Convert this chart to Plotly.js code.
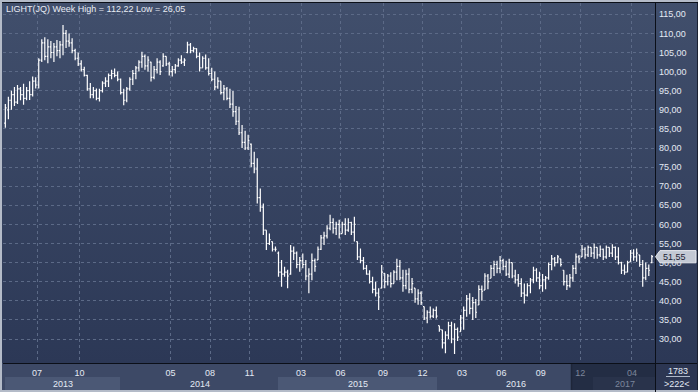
<!DOCTYPE html>
<html><head><meta charset="utf-8">
<script src="https://cdn.plot.ly/plotly-3.0.1.min.js"></script>
<style>
html,body{margin:0;padding:0;background:#3d4966;}
#wrap{position:relative;width:698px;height:392px;overflow:hidden;
 background:linear-gradient(to bottom,#414f6c 0px,#2c3856 363px,#3d4966 363px,#3d4966 392px);}
#chart{width:698px;height:392px;}
</style></head><body><div id="wrap"><div id="chart"></div></div>
<script>
// ---- data (weekly bars) ----
const firstBarDate = '2013-04-19';
const high = [
 91.5,93.4,95.0,96.0,96.5,96.0,96.8,96.0,97.5,98.7,
 98.5,103.5,108.5,109.0,108.5,108.0,107.5,108.3,108.0,112.22,
 110.9,110.0,108.7,106.0,105.0,103.0,101.3,99.2,97.0,96.0,
 95.6,95.5,97.5,98.5,99.5,100.5,100.8,100.0,98.2,95.5,
 96.0,98.5,100.4,101.5,103.0,105.2,104.5,104.0,102.6,101.5,
 103.5,103.0,104.8,104.0,102.6,101.5,102.0,103.5,104.3,103.5,
 107.8,107.5,106.5,106.1,105.0,104.0,104.5,103.5,101.0,100.0,
 98.5,97.5,96.5,96.0,95.5,94.9,91.0,90.8,86.0,84.5,
 83.5,81.2,79.0,77.3,69.4,65.5,58.5,57.6,55.5,54.2,
 52.9,50.7,48.9,48.1,54.6,54.2,52.9,51.5,52.4,50.7,
 48.5,52.4,51.1,54.2,57.2,58.1,59.8,62.5,61.6,60.7,
 61.2,60.7,61.6,61.6,60.7,62.0,55.5,53.7,51.5,49.4,
 48.0,46.3,45.0,43.3,49.4,47.2,47.0,47.5,48.0,51.0,
 50.7,48.1,48.1,48.5,46.0,43.3,43.0,42.5,38.5,37.5,
 38.5,38.0,38.5,33.5,32.4,32.0,34.5,34.5,34.1,33.0,
 36.3,38.5,41.5,42.0,41.0,40.5,44.1,44.0,47.2,47.0,
 49.4,50.5,50.5,51.7,51.0,50.5,51.0,50.0,48.1,47.0,
 45.9,44.5,44.6,46.0,48.9,48.5,47.6,47.0,46.5,50.0,
 52.0,51.5,52.0,51.0,48.0,46.8,47.0,49.4,52.4,52.0,
 54.6,54.0,54.5,54.0,55.0,54.0,54.5,53.7,54.5,54.0,
 54.8,54.2,54.0,50.2,49.5,50.5,53.3,53.5,53.7,52.0,
 50.7,50.0,49.5,52.0];
const low = [
 85.3,87.5,90.0,91.0,91.5,92.5,91.3,92.5,92.6,93.5,
 95.6,95.6,102.5,103.0,102.2,103.5,102.5,104.0,103.5,104.3,
 106.2,106.5,104.8,103.0,101.5,100.0,98.7,95.0,93.0,93.0,
 92.5,92.2,94.5,96.0,96.0,98.0,98.5,97.5,94.0,91.2,
 92.0,95.0,96.5,98.0,100.0,101.0,100.5,100.0,97.4,98.0,
 99.5,99.1,101.3,101.5,99.0,98.7,99.5,101.3,102.0,101.5,
 104.8,104.8,105.0,103.5,100.0,101.0,100.5,99.0,97.5,95.2,
 95.5,94.0,92.5,92.5,90.5,88.2,86.0,83.4,80.0,79.5,
 79.5,75.0,73.4,65.5,63.3,57.2,53.3,54.6,52.9,52.9,
 46.3,43.7,46.3,43.3,46.8,50.7,48.5,47.6,48.5,45.4,
 42.0,45.4,47.6,50.7,53.3,54.6,56.3,58.5,57.6,57.2,
 56.3,57.6,57.2,58.1,57.2,55.5,50.7,49.8,48.1,46.8,
 44.5,42.0,41.1,37.6,43.3,43.3,44.0,43.5,44.5,45.4,
 45.4,42.4,43.0,42.0,42.0,39.5,39.0,38.9,35.0,34.1,
 35.4,35.5,35.4,31.9,27.5,26.3,30.0,28.9,26.05,29.5,
 31.9,32.4,35.8,36.5,35.0,35.5,38.9,40.0,42.8,43.0,
 45.9,46.5,47.2,47.2,48.0,46.5,46.0,45.9,44.5,43.7,
 41.0,39.3,41.1,42.0,44.6,45.0,43.0,42.4,43.0,45.5,
 48.0,49.0,49.8,49.0,44.0,42.8,43.5,45.0,47.0,49.8,
 51.5,51.0,51.5,51.5,51.0,51.0,51.5,50.7,51.0,51.5,
 51.5,50.7,49.5,47.0,46.8,47.5,50.2,50.5,50.2,48.9,
 43.7,45.4,46.5,49.8];
const open = [
 86.5,90.0,92.5,94.0,92.0,95.5,94.0,93.0,95.0,94.0,
 97.5,96.5,103.0,107.5,104.0,106.5,105.0,106.5,105.5,107.0,
 110.0,108.0,107.5,105.5,103.5,102.0,100.5,99.0,95.5,94.0,
 95.0,93.0,95.0,97.0,97.5,99.0,99.5,99.0,98.0,94.5,
 92.5,95.5,98.0,99.5,101.0,102.5,104.0,101.5,102.5,98.5,
 100.5,102.5,101.5,104.0,102.0,100.0,100.5,101.5,103.0,102.5,
 105.0,107.0,105.5,106.0,104.0,101.0,103.5,101.0,99.5,98.0,
 96.0,97.5,94.5,95.5,93.0,91.5,89.5,87.0,84.0,81.5,
 80.0,81.0,76.0,74.5,67.0,64.5,58.5,55.0,55.5,53.5,
 52.5,47.5,47.0,47.5,47.0,53.0,52.5,49.5,50.5,49.5,
 46.5,47.0,50.5,50.7,53.5,56.5,57.0,59.0,60.5,59.0,
 60.0,57.6,60.0,58.5,60.5,58.0,55.5,51.5,50.5,48.5,
 47.0,45.0,43.0,42.0,43.3,47.2,45.0,46.5,44.5,47.5,
 49.0,46.0,44.0,47.0,43.0,43.3,40.5,42.0,38.5,35.5,
 37.0,36.0,37.5,33.5,32.4,29.0,31.0,33.5,30.0,32.5,
 31.9,35.5,37.5,40.5,38.0,39.5,38.9,43.0,42.8,46.5,
 45.9,48.5,49.5,48.5,50.5,49.0,47.0,50.0,46.5,45.5,
 44.5,42.0,41.5,44.0,45.5,48.0,46.0,44.0,45.5,46.0,
 49.5,51.0,50.0,51.0,48.0,45.0,44.0,46.0,48.5,51.5,
 51.5,53.5,52.0,54.0,52.5,54.0,52.0,53.5,51.5,54.0,
 52.5,54.0,51.5,50.0,48.0,47.5,50.2,52.5,51.5,52.0,
 49.5,46.0,48.5,50.0];
const close = [
 90.5,92.5,94.0,92.0,95.5,94.0,93.0,95.0,94.0,97.5,
 96.5,103.0,107.5,104.0,106.5,105.0,106.5,105.5,107.0,110.0,
 108.0,107.5,105.5,103.5,102.0,100.5,99.0,95.5,94.0,95.0,
 93.0,95.0,97.0,97.5,99.0,99.5,99.0,98.0,94.5,92.5,
 95.5,98.0,99.5,101.0,102.5,104.0,101.5,103.0,98.5,100.5,
 102.5,100.0,104.0,102.0,100.0,100.5,101.5,103.0,102.5,103.0,
 107.0,105.5,106.0,104.0,101.0,103.5,101.0,99.5,98.0,96.0,
 97.5,94.5,95.5,93.0,91.5,89.5,87.0,84.0,81.5,80.0,
 82.0,76.0,74.5,67.0,64.5,58.5,55.0,56.0,53.5,53.5,
 47.5,47.0,47.5,46.5,53.0,52.5,49.5,50.5,49.5,46.5,
 47.0,50.5,49.0,53.5,56.5,57.0,59.0,60.5,59.0,60.0,
 57.5,60.0,58.5,60.5,58.0,60.0,51.5,50.5,48.5,47.0,
 45.0,43.0,42.0,41.0,47.5,45.0,46.5,44.5,47.5,49.0,
 46.0,44.0,47.0,43.0,44.5,40.5,42.0,39.5,35.5,37.0,
 36.0,37.5,36.0,32.5,29.0,31.0,33.5,30.0,32.5,30.5,
 35.5,37.5,40.5,38.0,39.5,37.0,43.0,42.5,46.5,45.0,
 48.5,49.5,48.5,50.5,49.0,47.0,50.0,46.5,45.5,44.5,
 42.0,41.5,44.0,45.5,48.0,46.0,44.0,45.5,46.0,49.5,
 51.0,50.0,51.5,49.5,45.0,44.0,46.0,48.5,51.5,51.0,
 53.5,52.0,54.0,52.5,54.0,52.0,53.5,51.5,54.0,52.5,
 54.0,51.5,50.0,48.0,47.5,50.0,52.5,51.5,52.5,49.5,
 46.0,48.5,48.0,51.55];

// month ticks sit on the first weekly bar (Monday) of the month
const monthTickDates = ['2013-07-01','2013-10-07','2014-05-05','2014-08-04','2014-11-03','2015-03-02',
 '2015-06-01','2015-09-07','2015-12-07','2016-03-07','2016-06-06','2016-09-05','2016-12-05','2017-04-03'];
const monthTickLabels = ['07','10','05','08','11','03','06','09','12','03','06','09','12','04'];
const dimmedTicks = [12,13];
const priceTicks = [30,35,40,45,50,55,60,65,70,75,80,85,90,95,100,105,110,115];
const yearLabels = ['2013','2014','2015','2016','2017'];
const symbolName = 'LIGHT(JQ)';
const footerTop = '1783', footerBottom = '>222<';

// weekly dates for the bars
const dates = [];
{ const d0 = new Date(firstBarDate + 'T00:00:00Z');
  for (let i = 0; i < close.length; i++) {
    const d = new Date(d0.getTime() + i * 7 * 86400000);
    dates.push(d.toISOString().slice(0, 10));
  } }

const fmt = v => v.toFixed(2).replace('.', ',');
const hi = Math.max(...high), lo = Math.min(...low);
const lastClose = close[close.length - 1];

// ---- layout geometry ----
const PL = 3, PR = 655, PT = 3, PB = 363;
const fx = px => (px - PL) / (PR - PL);
const fy = py => (PB - py) / (PB - PT);
const FONT = 'Liberation Sans, Arial, sans-serif';
const txt = '#e4eaf4', dim = '#7c869b';

const ticktext = monthTickLabels.map((t, i) =>
  dimmedTicks.includes(i) ? '<span style="color:' + dim + '">' + t + '</span>' : t);

function rect(x0, x1, y0, y1, fill) {
  return {type: 'rect', xref: 'paper', yref: 'paper', x0: fx(x0), x1: fx(x1), y0: fy(y1), y1: fy(y0),
          fillcolor: fill, line: {width: 0}, layer: 'below'};
}
function line(x0, y0, x1, y1, color, w) {
  return {type: 'line', xref: 'paper', yref: 'paper', x0: fx(x0), x1: fx(x1), y0: fy(y0), y1: fy(y1),
          line: {color: color, width: w || 1}, layer: 'below'};
}

const yearCenters = [63, 200, 358, 516, 625];
const shapes = [
  rect(5, 120, 377, 390, '#4b5875'),
  rect(278, 437, 377, 390, '#4b5875'),
  rect(593, 655, 377, 390, '#4b5875'),
  rect(571, 655, 363.5, 390, 'rgba(14,22,40,0.55)'),
  line(571.5, 364, 571.5, 390, '#1e2639', 1.5),
  rect(655, 698, 363, 392, '#2c3652'),
  line(666, 376.5, 690, 376.5, '#aeb8c8', 1),
  rect(0, 698, 0, 2, '#b4bbc8'),
  rect(0, 2, 0, 392, '#b4bbc8'),
  rect(0, 698, 390, 392, '#b4bbc8'),
  line(2, 2.5, 698, 2.5, '#0b0f18', 1),
  line(655.5, 3, 655.5, 392, '#0b0f18', 1),
  line(3, 363.5, 698, 363.5, '#0b0f18', 1),
  line(697.5, 3, 697.5, 390, '#1a2132', 1),
  // price marker box
  {type: 'path', xref: 'paper', yref: 'y', layer: 'above',
   path: 'M ' + fx(655.5) + ',' + lastClose +
         ' L ' + fx(660) + ',' + (lastClose + 1.6) +
         ' L ' + fx(696) + ',' + (lastClose + 1.6) +
         ' L ' + fx(696) + ',' + (lastClose - 1.6) +
         ' L ' + fx(660) + ',' + (lastClose - 1.6) + ' Z',
   fillcolor: '#c3c9d4', line: {color: '#e6e9ee', width: 1}}
];

const annotations = [
  {xref: 'paper', yref: 'paper', x: fx(4), y: fy(9), xanchor: 'left', yanchor: 'middle', showarrow: false,
   text: symbolName + ' Week High = ' + fmt(hi) + ' Low = ' + fmt(lo), font: {family: FONT, size: 9, color: '#e8ecf4'}},
  {xref: 'paper', yref: 'paper', x: fx(677.5), y: fy(370.5), xanchor: 'center', yanchor: 'middle', showarrow: false,
   text: footerTop, font: {family: FONT, size: 9, color: txt}},
  {xref: 'paper', yref: 'paper', x: fx(676.5), y: fy(384), xanchor: 'center', yanchor: 'middle', showarrow: false,
   text: footerBottom, font: {family: FONT, size: 9, color: txt}},
  {xref: 'paper', yref: 'y', x: fx(661), y: lastClose, xanchor: 'left', yanchor: 'middle', showarrow: false,
   text: fmt(lastClose), font: {family: FONT, size: 9, color: '#1c2334'}}
].concat(yearLabels.map((t, i) => ({
  xref: 'paper', yref: 'paper', x: fx(yearCenters[i]), y: fy(384), xanchor: 'center', yanchor: 'middle',
  showarrow: false, text: t, font: {family: FONT, size: 9, color: i === 4 ? dim : txt}})));

const trace = {
  type: 'ohlc', x: dates, open: open, high: high, low: low, close: close,
  increasing: {line: {color: '#ffffff', width: 1.2}},
  decreasing: {line: {color: '#ffffff', width: 1.2}},
  tickwidth: 0.4, hoverinfo: 'skip', showlegend: false
};

const grid = '#5c6a87';
const layout = {
  width: 698, height: 392,
  margin: {l: PL, r: 698 - PR, t: PT, b: 392 - PB, pad: 0},
  paper_bgcolor: 'rgba(0,0,0,0)', plot_bgcolor: 'rgba(0,0,0,0)',
  separators: ',.',
  showlegend: false,
  font: {family: FONT, size: 9, color: txt},
  xaxis: {type: 'date', range: ['2013-04-13 14:00', '2017-05-26 08:00'],
    rangeslider: {visible: false},
    tickmode: 'array', tickvals: monthTickDates, ticktext: ticktext,
    showgrid: true, gridcolor: grid, gridwidth: 1, griddash: 'dot',
    zeroline: false, showline: false, ticks: '', ticklabelstandoff: 3,
    tickfont: {family: FONT, size: 9, color: txt}, fixedrange: true},
  yaxis: {side: 'right', range: [23.72, 117.96],
    tickmode: 'array', tickvals: priceTicks, tickformat: '.2f',
    showgrid: true, gridcolor: grid, gridwidth: 1, griddash: 'dot',
    zeroline: false, showline: false, ticks: '', ticklabelstandoff: 3,
    tickfont: {family: FONT, size: 9, color: txt}, fixedrange: true},
  shapes: shapes,
  annotations: annotations
};

Plotly.newPlot('chart', [trace], layout, {staticPlot: true, displayModeBar: false});
</script></body></html>
